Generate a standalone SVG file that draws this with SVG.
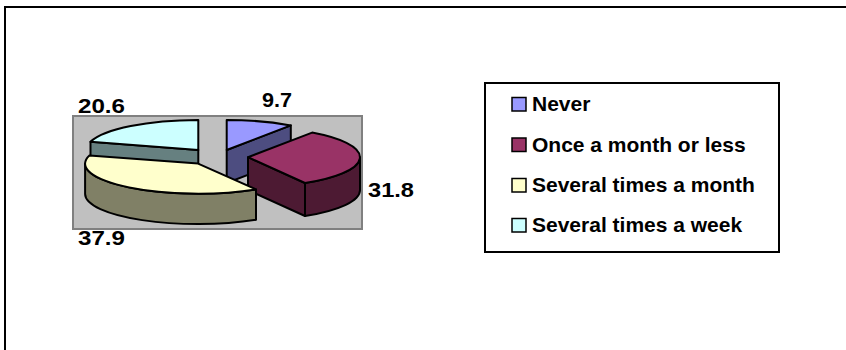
<svg xmlns="http://www.w3.org/2000/svg" width="846" height="350" viewBox="0 0 846 350">
  <style>
    .frame { fill: none; stroke: #000; stroke-width: 2; }
    .plot { fill: #C0C0C0; stroke: #808080; stroke-width: 2; }
    .edge { stroke: #000; stroke-width: 2; stroke-linejoin: round; }
    .lbl { font-family: "Liberation Sans", Arial, sans-serif; font-weight: bold; font-size: 20.5px; fill: #000; }
    .leg { font-family: "Liberation Sans", Arial, sans-serif; font-weight: bold; font-size: 21px; fill: #000; }
    .legbox { fill: #fff; stroke: #000; stroke-width: 2; }
    .sw { stroke: #000; stroke-width: 1.5; }
  </style>

  <!-- outer chart frame (left and top edges only) -->
  <path class="frame" d="M5,350 V7 H846"/>

  <!-- plot area -->
  <rect class="plot" x="73" y="116" width="289" height="113"/>

  <!-- Never: 9.7% -->
  <g id="slice-never">
    <path class="edge" fill="#4D4D80" d="M226.7,150 L290.8,125.4 L290.8,158.4 L226.7,183 Z"/>
    <path class="edge" fill="#9999FF" d="M226.7,150 L226.7,120 A112,30 0 0 1 290.8,125.4 Z"/>
  </g>

  <!-- Several times a week: 20.6% -->
  <g id="slice-week">
    <path class="edge" fill="#668080" d="M198.3,150 L90.5,141.8 L90.5,174.8 L198.3,183 Z"/>
    <path class="edge" fill="#CCFFFF" d="M198.3,150 L90.5,141.8 A112,30 0 0 1 198.3,120 Z"/>
  </g>

  <!-- Once a month or less: 31.8% -->
  <g id="slice-once">
    <path class="edge" fill="#4D1A33" d="M360,157.2 A112,30 0 0 1 305,183 L305,216 A112,30 0 0 0 360,190.2 Z"/>
    <path class="edge" fill="#4D1A33" d="M248,157.2 L305,183 L305,216 L248,190.2 Z"/>
    <path class="edge" fill="#993366" d="M248,157.2 L312.1,132.6 A112,30 0 0 1 305,183 Z"/>
  </g>

  <!-- Several times a month: 37.9% -->
  <g id="slice-month">
    <path class="edge" fill="#808066" d="M256,189.4 A113,30 0 0 1 85.1,163.6 L85.1,194 A113,30 0 0 0 256,219.8 Z"/>
    <path class="edge" fill="#FFFFCC" d="M198.1,163.6 L256,189.4 A113,30 0 0 1 89.4,155.4 Z"/>
  </g>

  <!-- data labels -->
  <g id="data-labels">
    <text class="lbl" x="262" y="107" textLength="30" lengthAdjust="spacingAndGlyphs">9.7</text>
    <text class="lbl" x="368" y="197" textLength="46" lengthAdjust="spacingAndGlyphs">31.8</text>
    <text class="lbl" x="78" y="113" textLength="47" lengthAdjust="spacingAndGlyphs">20.6</text>
    <text class="lbl" x="78" y="245" textLength="47" lengthAdjust="spacingAndGlyphs">37.9</text>
  </g>

  <!-- legend -->
  <g id="legend">
    <rect class="legbox" x="485" y="83" width="294" height="169"/>
    <rect class="sw" x="512" y="97.5" width="14" height="13.5" fill="#9999FF"/>
    <text class="leg" x="532" y="111">Never</text>
    <rect class="sw" x="512" y="138" width="14" height="13.5" fill="#993366"/>
    <text class="leg" x="532" y="151.5">Once a month or less</text>
    <rect class="sw" x="512" y="178.5" width="14" height="13.5" fill="#FFFFCC"/>
    <text class="leg" x="532" y="192">Several times a month</text>
    <rect class="sw" x="512" y="218.5" width="14" height="13.5" fill="#CCFFFF"/>
    <text class="leg" x="532" y="232">Several times a week</text>
  </g>
</svg>
